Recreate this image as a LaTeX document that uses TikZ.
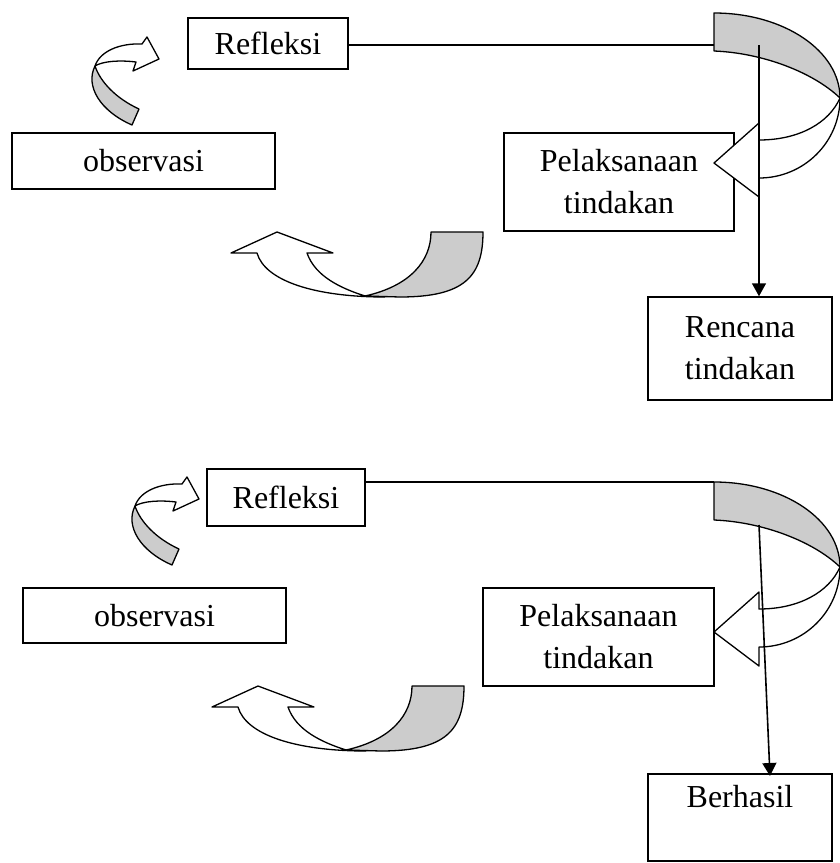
\documentclass[tikz,border=0pt]{standalone}
\usepackage{fontspec}
\setmainfont{Liberation Serif}
\usetikzlibrary{arrows.meta}

\begin{document}
\begin{tikzpicture}[
            x = 1pt, y = -1pt, % picture units, y runs down
            > = {Triangle[length=13pt, width=14pt]}, % arrow head style
            semithick % line style
        ]

        \tikzstyle{box}=[
            draw = black,
            line width = 1.5pt,
            fill = white,
            align = center,
            inner sep = 0pt,
            font = \fontsize{32}{42}\selectfont
        ]
        \tikzstyle{ribbon}=[draw = black, line width = 1.3pt, line join = round]
        \tikzstyle{shade}=[ribbon, fill = black!20]
        \tikzstyle{blank}=[ribbon, fill = white]
        \tikzstyle{link}=[line width = 1.3pt]
        \tikzstyle{down}=[->, line width = 1.6pt]

        \tikzset{
            bigturn/.pic = {
                \draw[shade] (0,0) .. controls (70,0) and (126,38) .. (126,85)
                    .. controls (100,60) and (50,40) .. (0,38) -- cycle;
                \draw[blank] (126,85) .. controls (126,129) and (90,165) .. (45,165)
                    -- (45,184) -- (0,150) -- (45,110) -- (45,127)
                    .. controls (85,127) and (115,110) .. (126,85) -- cycle;
            },
            smallturn/.pic = {
                \draw[shade] (0,0) .. controls (-10,20) and (5,45) .. (37,59)
                    -- (44,43) .. controls (20,32) and (5,15) .. (0,0) -- cycle;
                \draw[blank] (0,0) .. controls (5,-15) and (25,-23) .. (47,-22)
                    -- (52,-29) -- (64,-7) -- (38,5) -- (41,-4)
                    .. controls (25,-6) and (8,-5) .. (0,0) -- cycle;
            },
            uturn/.pic = {
                \draw[blank] (20,1) .. controls (-50,1) and (-100,-15) .. (-108,-43)
                    -- (-134,-43) -- (-88,-64) -- (-32,-43) -- (-58,-43)
                    .. controls (-50,-20) and (-25,-8) .. (0,0) -- cycle;
                \draw[shade] (66,-64) -- (118,-64) .. controls (118,-20) and (100,1) .. (35,1)
                    -- (0,0) .. controls (45,-10) and (66,-35) .. (66,-64) -- cycle;
            }
        }

        \useasboundingbox (0,0) rectangle (840,863);

        % first cycle
        \node[box, minimum width=160pt, minimum height=51pt] (refl1) at (268,43.5) {Refleksi};
        \node[box, minimum width=263pt, minimum height=56pt] (obs1) at (143.5,161) {observasi};
        \node[box, minimum width=230pt, minimum height=98pt] (pel1) at (619,182) {Pelaksanaan\\tindakan};
        \node[box, minimum width=184pt, minimum height=103pt] (ren1) at (740,348.5) {Rencana\\tindakan};

        \coordinate (tail1) at (714,45);
        \coordinate (top1) at (759,45);
        \draw[link] (refl1.east |- tail1) -- (tail1);
        \pic at (714,13) {bigturn};
        \pic at (95,66) {smallturn};
        \pic at (365,296) {uturn};
        \draw[down] (top1) -- (top1 |- ren1.north);

        % second cycle
        \node[box, minimum width=158pt, minimum height=57pt] (refl2) at (286,497.5) {Refleksi};
        \node[box, minimum width=263pt, minimum height=55pt] (obs2) at (154.5,615.5) {observasi};
        \node[box, minimum width=231pt, minimum height=98pt] (pel2) at (598.5,637) {Pelaksanaan\\tindakan};
        \node[box, minimum width=184pt, minimum height=87pt] (ber2) at (740,817.5) {Berhasil\\\mbox{}};

        \coordinate (tail2) at (714,482);
        \coordinate (top2) at (759,525);
        \coordinate (foot2) at (770,776);
        \draw[link] (refl2.east |- tail2) -- (tail2);
        \pic at (714,482) {bigturn};
        \pic at (135,506) {smallturn};
        \pic at (346,750) {uturn};
        \draw[down] (top2) -- (foot2);

    \end{tikzpicture}
\end{document}
